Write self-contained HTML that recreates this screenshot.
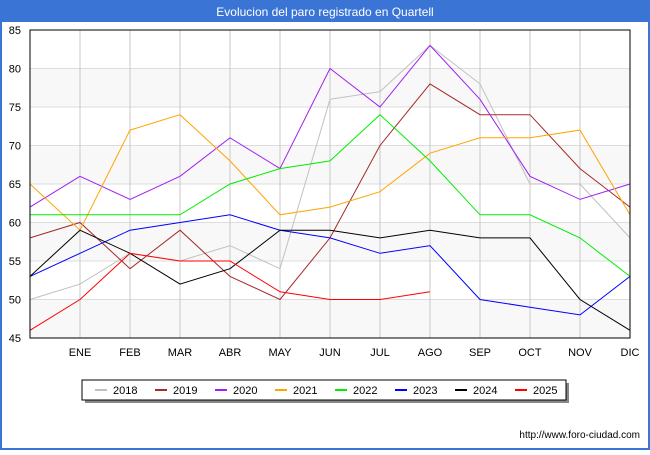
<!DOCTYPE html>
<html><head><meta charset="utf-8"><style>
body{margin:0;width:650px;height:450px;background:#fff;font-family:"Liberation Sans","DejaVu Sans",sans-serif;overflow:hidden}
</style></head><body>
<svg id="c" width="650" height="450" xmlns="http://www.w3.org/2000/svg">
<rect x="0" y="0" width="650" height="450" fill="#3a75d6"/>
<rect x="2" y="22" width="646" height="426" fill="#fff"/>
<text x="325" y="16" text-anchor="middle" fill="#fff" font-size="12">Evolucion del paro registrado en Quartell</text>
<g id="plot"></g>
<text x="640" y="438" text-anchor="end" font-size="10" fill="#000">http://www.foro-ciudad.com</text>
</svg>
<script>
const months=["","ENE","FEB","MAR","ABR","MAY","JUN","JUL","AGO","SEP","OCT","NOV","DIC"];
const yTicks=[45,50,55,60,65,70,75,80,85];
const years=["2018","2019","2020","2021","2022","2023","2024","2025"];
const colors=["#c0c0c0","#a52a2a","#a020f0","#ffa500","#00ee00","#0000ff","#000000","#ff0000"];
const s2018=[50,52,56,55,57,54,76,77,83,78,65,65,58];
const s2019=[58,60,54,59,53,50,58,70,78,74,74,67,62];
const s2020=[62,66,63,66,71,67,80,75,83,76,66,63,65];
const s2021=[65,59,72,74,68,61,62,64,69,71,71,72,61];
const s2022=[61,61,61,61,65,67,68,74,68,61,61,58,53];
const s2023=[53,56,59,60,61,59,58,56,57,50,49,48,53];
const s2024=[53,59,56,52,54,59,59,58,59,58,58,50,46];
const s2025=[46,50,56,55,55,51,50,50,51];
const series=[s2018,s2019,s2020,s2021,s2022,s2023,s2024,s2025];
const X0=30,X1=630,Y0=338,Y1=30,ymin=45,ymax=85;
const xs=i=>X0+i*(X1-X0)/12;
const ys=v=>Y0-(v-ymin)*(Y0-Y1)/(ymax-ymin);
const NS="http://www.w3.org/2000/svg";
const g=document.getElementById('plot');
function mk(t,a,p){const e=document.createElementNS(NS,t);for(const k in a)e.setAttribute(k,a[k]);(p||g).appendChild(e);return e;}
for(let i=0;i<yTicks.length-1;i++){
 if(i%2==0){const b=mk('rect',{x:X0,y:ys(yTicks[i+1]),width:X1-X0,height:ys(yTicks[i])-ys(yTicks[i+1]),fill:'#f8f8f8'});
 
 }
}
yTicks.forEach(v=>{
 const l=mk('line',{x1:X0,x2:X1,y1:ys(v),y2:ys(v),stroke:'#dddddd','stroke-width':1});
 
 
 const t=mk('text',{x:X0-9,y:ys(v)+4,'text-anchor':'end','font-size':11,fill:'#000'});t.textContent=v;
 
 
});
months.forEach((m,i)=>{
 if(i==0)return;
 const l=mk('line',{x1:xs(i),x2:xs(i),y1:Y1,y2:Y0,stroke:'#c8c8c8','stroke-width':1});
 
 
 const t=mk('text',{x:xs(i),y:Y0+18,'text-anchor':'middle','font-size':11,fill:'#000'});t.textContent=m;
 
 
});
series.forEach((s,k)=>{
 const p=mk('polyline',{points:s.map((v,i)=>xs(i)+','+ys(v)).join(' '),fill:'none',stroke:colors[k],'stroke-width':1});
 
 
});
const ax=mk('rect',{x:X0,y:Y1,width:X1-X0,height:Y0-Y1,fill:'none',stroke:'#000','stroke-width':1});


// legend
mk('rect',{x:85,y:383,width:484,height:20,fill:'#888'});
const lb=mk('rect',{x:82,y:380,width:484,height:20,fill:'#fff',stroke:'#000','stroke-width':1});


years.forEach((y,k)=>{
 const x=95+k*60;
 const l=mk('line',{x1:x,x2:x+12,y1:390,y2:390,stroke:colors[k],'stroke-width':2});
 
 
 const t=mk('text',{x:x+18,y:394,'font-size':11,fill:'#000'});t.textContent=y;
 
 
});
</script>
</body></html>
